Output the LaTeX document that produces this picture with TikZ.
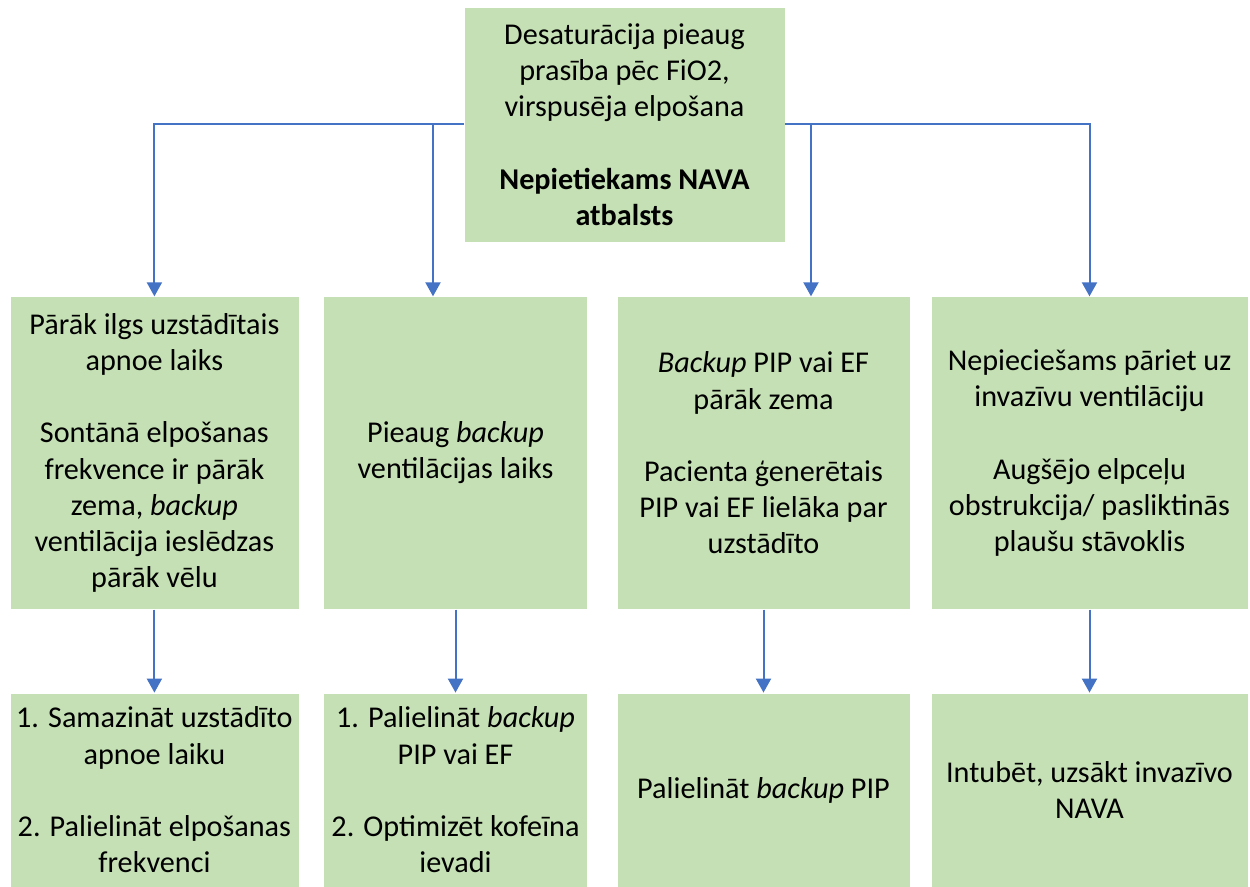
\documentclass[tikz,border=0pt]{standalone}
\usepackage{fontspec}
\setmainfont{Carlito}
\usetikzlibrary{arrows.meta}
\definecolor{boxgreen}{HTML}{C5E0B4}
\definecolor{arrowblue}{HTML}{4472C4}
\tikzset{
  box/.style={fill=boxgreen, draw=white, line width=0.4pt, inner sep=0pt, align=center,
    font=\fontsize{15.1pt}{18.1pt}\selectfont},
  arr/.style={draw=arrowblue, line width=1pt, -{Triangle[width=7.5pt,length=7pt]}},
  link/.style={draw=arrowblue, line width=1pt}
}
\begin{document}
\begin{tikzpicture}[x=0.5pt,y=-0.5pt]
\useasboundingbox (0,0) rectangle (1250,887);
% top
\node[box, minimum width=160.5pt, minimum height=117.5pt] (top) at (624.5,124.5)
  {Desaturācija pieaug\\prasība pēc FiO2,\\virspusēja elpošana\\[18.1pt]
   \textbf{Nepietiekams NAVA}\\\textbf{atbalsts}};
% middle row
\node[box, minimum width=144.5pt, minimum height=156.25pt] (m1) at (154.4,453)
  {Pārāk ilgs uzstādītais\\apnoe laiks\\[18.1pt]Sontānā elpošanas\\frekvence ir pārāk\\zema, \textit{backup}\\ventilācija ieslēdzas\\pārāk vēlu};
\node[box, minimum width=132pt, minimum height=156.25pt] (m2) at (455.5,453)
  {Pieaug \textit{backup}\\ventilācijas laiks};
\node[box, minimum width=146.5pt, minimum height=156.25pt] (m3) at (763.5,453)
  {\textit{Backup} PIP vai EF\\pārāk zema\\[18.1pt]Pacienta ģenerētais\\PIP vai EF lielāka par\\uzstādīto};
\node[box, minimum width=158.5pt, minimum height=156.25pt] (m4) at (1089.5,453)
  {Nepieciešams pāriet uz\\invazīvu ventilāciju\\[18.1pt]Augšējo elpceļu\\obstrukcija/ pasliktinās\\plaušu stāvoklis};
% bottom row
\node[box, minimum width=144.5pt, minimum height=97pt] (b1) at (154.4,790)
  {1. Samazināt uzstādīto\\apnoe laiku\\[18.1pt]2. Palielināt elpošanas\\frekvenci};
\node[box, minimum width=132pt, minimum height=97pt] (b2) at (455.5,790)
  {1. Palielināt \textit{backup}\\PIP vai EF\\[18.1pt]2. Optimizēt kofeīna\\ievadi};
\node[box, minimum width=146.5pt, minimum height=97pt] (b3) at (763.5,790)
  {Palielināt \textit{backup} PIP};
\node[box, minimum width=158.5pt, minimum height=97pt] (b4) at (1089.5,790)
  {Intubēt, uzsākt invazīvo\\NAVA};
% connectors from top
\coordinate (j2) at (433,124.5);
\coordinate (j3) at (811,124.5);
\draw[arr] (top.west) -| (m1.north);
\draw[arr] (top.east) -| (m4.north);
\draw[arr] (j2) -- (j2 |- m2.north);
\draw[arr] (j3) -- (j3 |- m3.north);
% connectors to bottom
\draw[arr] (m1.south) -- (b1.north);
\draw[arr] (m2.south) -- (b2.north);
\draw[arr] (m3.south) -- (b3.north);
\draw[arr] (m4.south) -- (b4.north);
\end{tikzpicture}
\end{document}
